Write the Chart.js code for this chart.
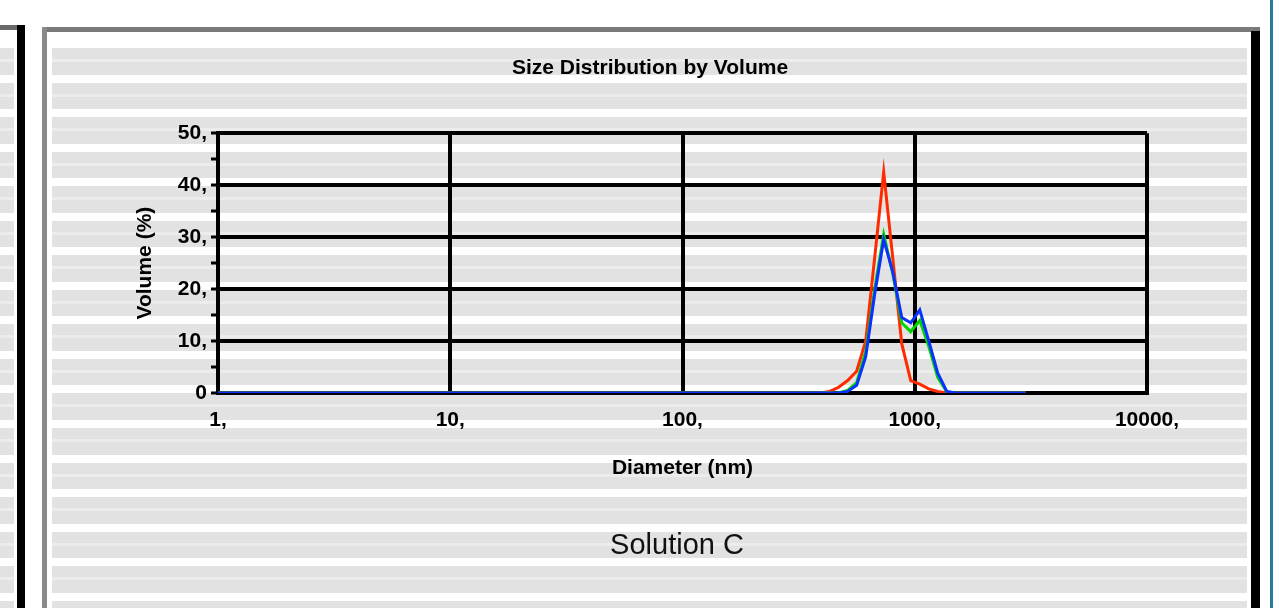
<!DOCTYPE html>
<html>
<head>
<meta charset="utf-8">
<script src="https://cdn.jsdelivr.net/npm/chart.js@4.4.1/dist/chart.umd.min.js"></script>
<style>
  body { margin: 0; width: 1287px; height: 608px; overflow: hidden; background: #fff; position: relative; }
  .abs { position: absolute; }
  .stripes {
    background: repeating-linear-gradient(to bottom,
      #fff 0, #fff 8px, #e2e2e2 8px, #e2e2e2 19px, #ececec 19px, #ececec 22px, #e2e2e2 22px, #e2e2e2 34.55px);
  }
  #caption { left: 577px; top: 528px; width: 200px; text-align: center; line-height: 34px;
             font: 29px "Liberation Sans", Arial, sans-serif; color: #111; }
  canvas { position: absolute; left: 0; top: 0; }
</style>
</head>
<body>
  <!-- neighbour panel edge -->
  <div class="abs stripes" style="left:0;top:40.45px;width:14px;height:580px"></div>
  <div class="abs" style="left:0;top:25px;width:25px;height:5px;background:#6a6a6a"></div>
  <div class="abs" style="left:17px;top:25px;width:8px;height:590px;background:#000"></div>

  <!-- main panel -->
  <div class="abs stripes" style="left:52px;top:40.45px;width:1195px;height:580px"></div>
  <div class="abs" style="left:42px;top:27px;width:1218px;height:5px;background:#7a7a7a"></div>
  <div class="abs" style="left:42px;top:27px;width:5px;height:590px;background:#8a8a8a"></div>
  <div class="abs" style="left:1251px;top:31px;width:9px;height:590px;background:#000"></div>
  <div class="abs" style="left:1270px;top:0;width:3px;height:608px;background:#2b7c98"></div>

  <canvas id="chartVolumen" width="1287" height="608"></canvas>
  <div id="caption" class="abs">Solution C</div>

<script>
/* ── Data ─────────────────────────────────────────────────────────────────── */
const diameters   = [1, 393, 430, 470, 514, 562, 615, 672, 735, 804, 879, 961, 1051, 1149, 1256, 1374, 1502, 3000];
const volumeRed   = [0, 0, 0.3, 1.1, 2.4, 4.2, 10, 26, 42.5, 26, 9.5, 2.4, 1.7, 0.8, 0.3, 0, 0, 0];
const volumeGreen = [0, 0, 0, 0, 0.5, 2.0, 8, 20, 30.5, 23, 13.5, 11.8, 14, 9, 3, 0.2, 0, 0];
const volumeBlue  = [0, 0, 0, 0, 0.3, 1.5, 7, 19, 29.5, 23.3, 14.5, 13.5, 16, 10, 3.8, 0.3, 0, 0];

const xTicks      = [1, 10, 100, 1000, 10000];
const xTickLabels = ['1,', '10,', '100,', '1000,', '10000,'];
const yTickLabels = ['0', '10,', '20,', '30,', '40,', '50,'];

/* ── Helpers ──────────────────────────────────────────────────────────────── */
function toPoints(values) {
  return diameters.map((d, i) => ({ x: d, y: values[i] }));
}

function serie(label, values, color, order) {
  return {
    label,
    data: toPoints(values),
    borderColor: color,
    backgroundColor: color,
    borderWidth: 3,
    pointRadius: 0,
    tension: 0,
    fill: false,
    order
  };
}

/* ── Chart ────────────────────────────────────────────────────────────────── */
Chart.defaults.font.family = '"Liberation Sans", Arial, sans-serif';
Chart.defaults.color = '#000';

const boldFont = { size: 21, weight: 'bold' };

new Chart(document.getElementById('chartVolumen').getContext('2d'), {
  type: 'line',
  data: {
    datasets: [
      serie('Record 3', volumeBlue,  '#0a32ff', 0),
      serie('Record 2', volumeGreen, '#00d400', 1),
      serie('Record 1', volumeRed,   '#ff2a00', 2)
    ]
  },
  options: {
    responsive: false,
    animation: false,
    layout: { padding: { left: 133, right: 120, top: 30, bottom: 127 } },
    plugins: {
      legend: { display: false },
      tooltip: { enabled: false },
      title: {
        display: true,
        text: 'Size Distribution by Volume',
        font: boldFont,
        padding: { top: 26, bottom: 52 }
      }
    },
    scales: {
      x: {
        type: 'logarithmic',
        min: 1,
        max: 10000,
        afterBuildTicks: s => { s.ticks = xTicks.map(v => ({ value: v })); },
        afterFit: s => { s.height = 88; },
        ticks: {
          autoSkip: false,
          maxRotation: 0,
          padding: 15,
          font: boldFont,
          callback: (v, i) => xTickLabels[i]
        },
        grid: { color: '#000', lineWidth: 4, drawTicks: false },
        border: { display: true, color: '#000', width: 4 },
        title: { display: true, text: 'Diameter (nm)', font: boldFont, padding: 0 }
      },
      y: {
        min: 0,
        max: 50,
        afterFit: s => { s.width = 85; },
        ticks: {
          stepSize: 5,
          autoSkip: false,
          padding: 4,
          font: boldFont,
          callback: v => (v % 10 === 0 ? yTickLabels[v / 10] : '')
        },
        grid: {
          color: '#000',
          lineWidth: c => (c.tick && c.tick.value % 10 === 0 ? 4 : 0),
          tickColor: '#000',
          tickWidth: 3,
          tickLength: 7
        },
        border: { display: true, color: '#000', width: 4 },
        title: { display: true, text: 'Volume (%)', font: boldFont, padding: 0 }
      },
      // empty box on the right so the title centres like the original
      spacer: {
        type: 'linear',
        position: 'right',
        grid: { display: false },
        ticks: { display: false },
        border: { display: false },
        afterFit: s => { s.width = 20; }
      }
    }
  }
});
</script>
</body>
</html>
